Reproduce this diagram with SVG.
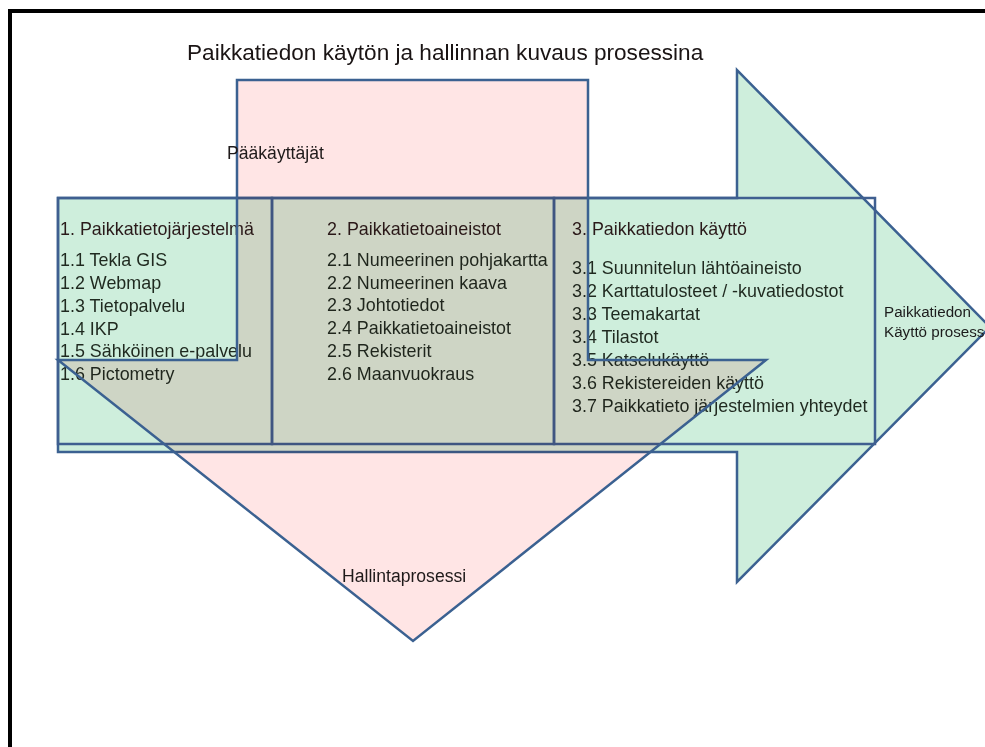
<svg xmlns="http://www.w3.org/2000/svg" width="985" height="747" viewBox="0 0 985 747">
  <style>
    .t { font-family: "Liberation Sans", Arial, sans-serif; }
    .head { font-size: 17.9px; fill: #2a1a1a; }
    .item { font-size: 17.9px; fill: #1f291f; }
    .lbl { font-size: 17.6px; fill: #1f1a1a; }
    .shape { stroke: #3b6191; stroke-width: 2.5; stroke-linejoin: miter; }
    .box { fill: none; stroke: #3f5f90; stroke-width: 2.5; }
  </style>

  <rect x="0" y="0" width="985" height="747" fill="#ffffff"/>
  <!-- outer frame -->
  <rect x="10" y="11" width="1000" height="800" fill="none" stroke="#000000" stroke-width="4"/>

  <text class="t" x="187" y="60" font-size="22.6" fill="#1a1414">Paikkatiedon käytön ja hallinnan kuvaus prosessina</text>

  <!-- usage process: big right-pointing arrow -->
  <g id="kayttoprosessi">
    <polygon class="shape" fill="#ceeedc" points="58,198 737,198 737,70 990,327 737,582 737,452 58,452"/>
    <text class="t" x="884" y="317" font-size="15.2" fill="#1c1c1c">Paikkatiedon</text>
    <text class="t" x="884" y="337" font-size="15.2" fill="#1c1c1c">Käyttö prosessi</text>
  </g>

  <!-- three content boxes -->
  <g id="box1">
    <rect class="box" x="58" y="198" width="214" height="246"/>
    <text class="t head" x="60" y="235">1. Paikkatietojärjestelmä</text>
    <text class="t item" x="60" y="266">1.1 Tekla GIS</text>
    <text class="t item" x="60" y="289">1.2 Webmap</text>
    <text class="t item" x="60" y="312">1.3 Tietopalvelu</text>
    <text class="t item" x="60" y="335">1.4 IKP</text>
    <text class="t item" x="60" y="357">1.5 Sähköinen e-palvelu</text>
    <text class="t item" x="60" y="380">1.6 Pictometry</text>
  </g>
  <g id="box2">
    <rect class="box" x="272" y="198" width="282" height="246"/>
    <text class="t head" x="327" y="235">2. Paikkatietoaineistot</text>
    <text class="t item" x="327" y="266">2.1 Numeerinen pohjakartta</text>
    <text class="t item" x="327" y="289">2.2 Numeerinen kaava</text>
    <text class="t item" x="327" y="311">2.3 Johtotiedot</text>
    <text class="t item" x="327" y="334">2.4 Paikkatietoaineistot</text>
    <text class="t item" x="327" y="357">2.5 Rekisterit</text>
    <text class="t item" x="327" y="380">2.6 Maanvuokraus</text>
  </g>
  <g id="box3">
    <rect class="box" x="554" y="198" width="321" height="246"/>
    <text class="t head" x="572" y="235">3. Paikkatiedon käyttö</text>
    <text class="t item" x="572" y="274">3.1 Suunnitelun lähtöaineisto</text>
    <text class="t item" x="572" y="297">3.2 Karttatulosteet / -kuvatiedostot</text>
    <text class="t item" x="572" y="320">3.3 Teemakartat</text>
    <text class="t item" x="572" y="343">3.4 Tilastot</text>
    <text class="t item" x="572" y="366">3.5 Katselukäyttö</text>
    <text class="t item" x="572" y="389">3.6 Rekistereiden käyttö</text>
    <text class="t item" x="572" y="412">3.7 Paikkatieto järjestelmien yhteydet</text>
  </g>

  <!-- management process: translucent down-pointing arrow laid over the boxes -->
  <g id="hallintaprosessi">
    <polygon fill="#ffe5e5" style="mix-blend-mode: multiply" points="237,80 588,80 588,360 766,360 413,641 58,360 237,360"/>
    <polygon class="shape" fill="none" points="237,80 588,80 588,360 766,360 413,641 58,360 237,360"/>
    <text class="t lbl" x="227" y="159">Pääkäyttäjät</text>
    <text class="t lbl" x="342" y="582">Hallintaprosessi</text>
  </g>
</svg>
